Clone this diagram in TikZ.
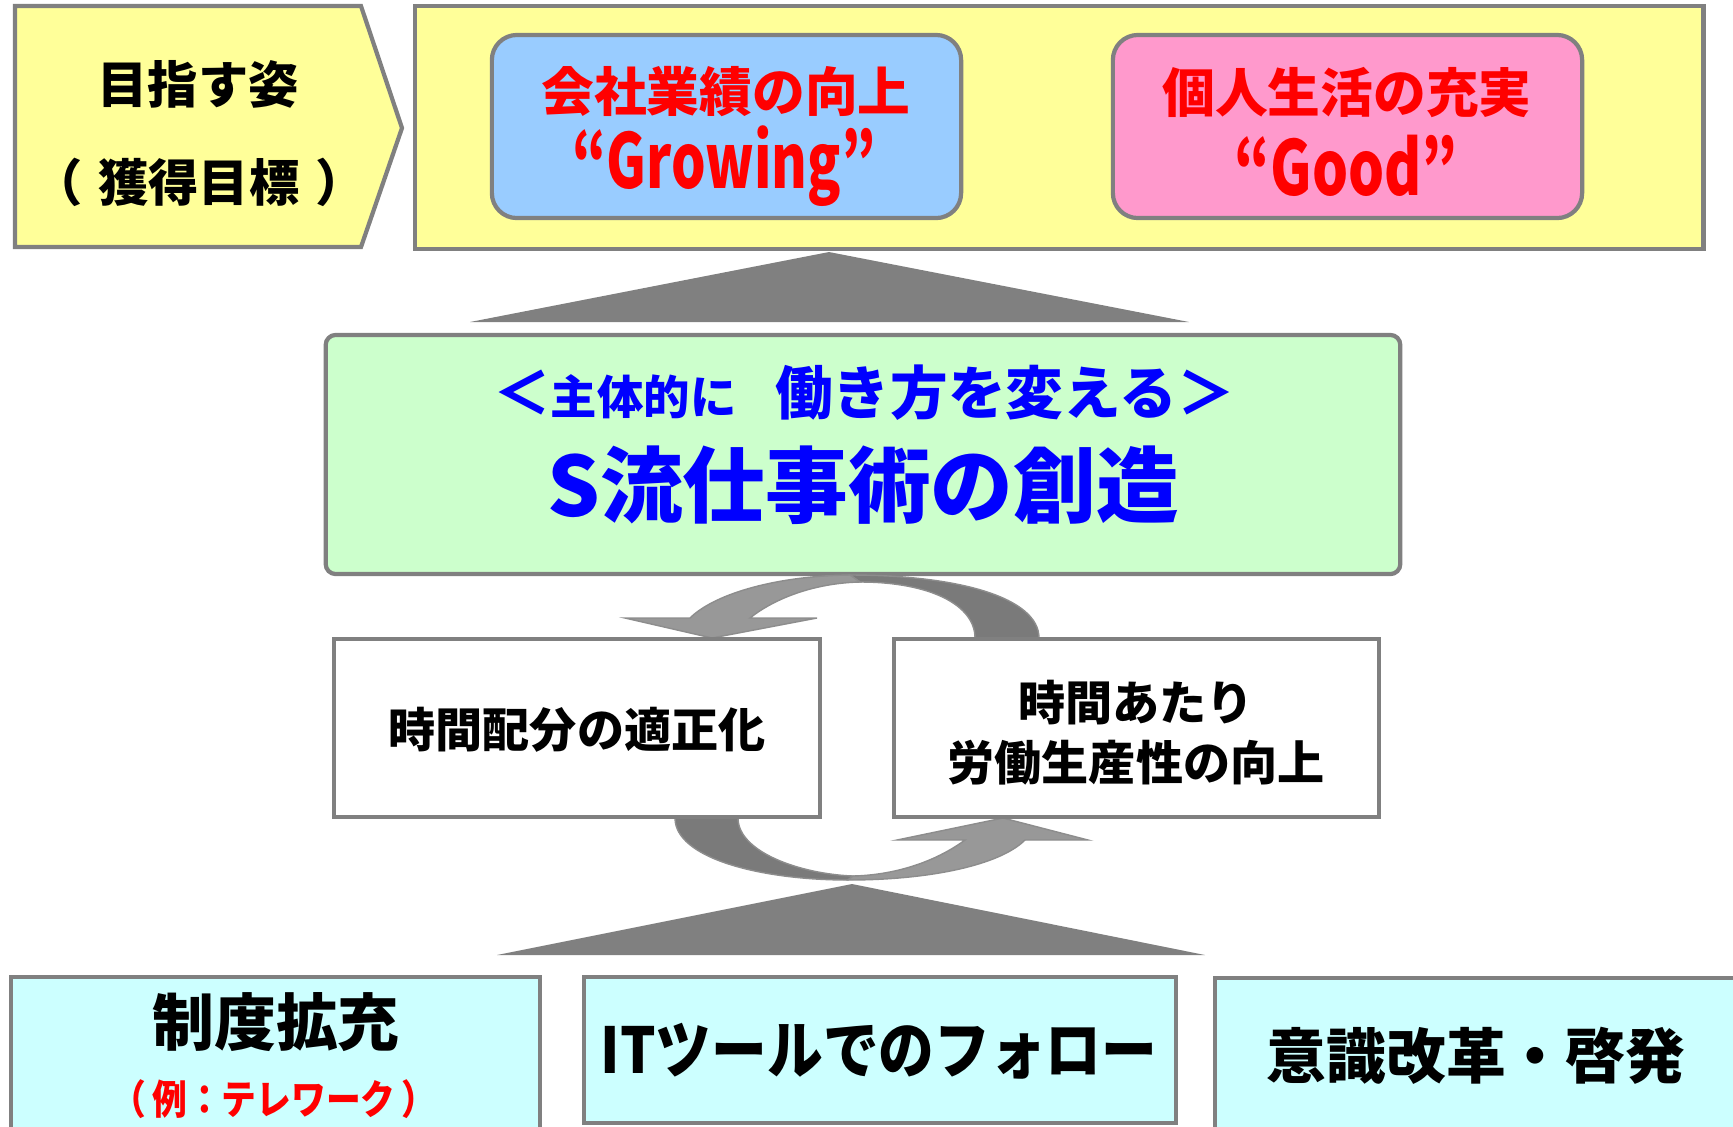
\documentclass[tikz,border=0pt]{standalone}
\usepackage{fontspec}
\usepackage{graphicx}
\setmainfont{Noto Sans CJK JP}
\definecolor{yel}{HTML}{FFFF99}
\definecolor{bluebox}{HTML}{99CCFF}
\definecolor{pinkbox}{HTML}{FF99CC}
\definecolor{greenbox}{HTML}{CCFFCC}
\definecolor{cyanbox}{HTML}{CCFFFF}
\definecolor{lgray}{HTML}{808080}
\definecolor{arrdark}{HTML}{7A7A7A}
\definecolor{arrlight}{HTML}{989898}
\definecolor{txtred}{HTML}{FF0000}
\definecolor{txtblue}{HTML}{0000FF}
\newcommand{\fs}[1]{\fontsize{#1}{#1}\selectfont}
\tikzset{
  frame/.style={draw=lgray, line width=1.2pt},
  box/.style={frame, inner sep=0pt, outer sep=0pt},
  jp/.style={font=\bfseries, inner sep=0pt, outer sep=0pt},
  tri/.style={fill=lgray},
  arrd/.style={fill=arrdark, draw=lgray!90, line width=0.4pt},
  arrl/.style={fill=arrlight, draw=lgray!90, line width=0.4pt},
}
\begin{document}
\begin{tikzpicture}[x=0.01cm, y=-0.01cm]
\useasboundingbox (0,0) rectangle (1733,1126);
\clip (0,0) rectangle (1733,1126);

% goal label (pentagon)
\filldraw[fill=yel, frame] (15,6) -- (361,6) -- (402,128) -- (361,247) -- (15,247) -- cycle;
\node[jp] (goalA) at (198,84) {\fs{14.3}目指す姿};
\node[jp] (goalB) at (199,182) {\fs{14.3}（\hspace{4.5pt}獲得目標\hspace{4.5pt}）};

% top yellow frame
\node[box, fill=yel, minimum width=12.88cm, minimum height=2.43cm] (top) at (1059,127.5) {};
\node[box, fill=bluebox, rounded corners=0.25cm, minimum width=4.69cm, minimum height=1.83cm] (grow) at (726.5,126.5) {};
\node[box, fill=pinkbox, rounded corners=0.25cm, minimum width=4.69cm, minimum height=1.83cm] (good) at (1347.5,126.5) {};
\node[jp, text=txtred] (growA) at (726,92) {\fs{15}会社業績の向上};
\node[jp, text=txtred] (growB) at (724,166) {\scalebox{0.72}[1]{\fs{21.5}“Growing”}};
\node[jp, text=txtred] (goodA) at (1347,92) {\fs{15}個人生活の充実};
\node[jp, text=txtred] (goodB) at (1346,166) {\scalebox{0.75}[1]{\fs{21.5}“Good”}};

% upper triangle
\fill[tri] (829,252) -- (1189,322) -- (470,322) -- cycle;

% green main box
\node[box, fill=greenbox, rounded corners=0.1cm, minimum width=10.74cm, minimum height=2.39cm] (main) at (863,454.5) {};
\node[jp, text=txtblue] (mainA) at (864,393) {\fs{16.4}＜{\fs{13.2}主体的に}\hspace{11pt}働き方を変える＞};
\node[jp, text=txtblue] (mainB) at (863,485) {\fs{23.5}S流仕事術の創造};

% circular arrows
\filldraw[arrd] (1039,638) .. controls (1039,598) and (960,575) .. (850,575)
  -- (860,582) .. controls (930,582) and (975,605) .. (975,638) -- cycle;
\filldraw[arrl] (850,575) .. controls (770,576) and (712,596) .. (690,618)
  -- (625,618) -- (712,638) -- (817,618) -- (750,618)
  .. controls (775,598) and (815,583) .. (860,582) -- cycle;
\filldraw[arrd] (675,818) .. controls (675,858) and (760,880) .. (848,880)
  -- (853,876) .. controls (800,874) and (738,852) .. (738,818) -- cycle;
\filldraw[arrl] (848,880) .. controls (930,880) and (1000,865) .. (1025,840)
  -- (1088,840) -- (1003,818) -- (897,840) -- (965,840)
  .. controls (935,862) and (895,875) .. (853,876) -- cycle;

% white boxes
\node[box, fill=white, minimum width=4.86cm, minimum height=1.78cm] (alloc) at (577,728) {};
\node[box, fill=white, minimum width=4.85cm, minimum height=1.78cm] (prod) at (1136.5,728) {};
\node[jp] (allocT) at (577,730) {\fs{13.4}時間配分の適正化};
\node[jp] (prodA) at (1136,703) {\fs{13.4}時間あたり};
\node[jp] (prodB) at (1136,763) {\fs{13.4}労働生産性の向上};

% lower triangle
\fill[tri] (852,884) -- (1205,955) -- (497,955) -- cycle;

% bottom boxes
\node[box, fill=cyanbox, minimum width=5.29cm, minimum height=1.63cm] (sys) at (275.5,1058.5) {};
\node[box, fill=cyanbox, minimum width=5.92cm, minimum height=1.46cm] (it) at (880,1050) {};
\node[box, fill=cyanbox, minimum width=5.45cm, minimum height=1.62cm] (mind) at (1487.5,1059) {};
\node[jp] (sysA) at (276,1022) {\fs{17.6}制度拡充};
\node[jp, text=txtred] (sysB) at (274,1099) {\scalebox{0.86}[1]{\fs{11.5}（\hspace{2pt}例：テレワーク\hspace{2pt}）}};
\node[jp] (itT) at (879,1051) {\scalebox{0.88}[1]{\fs{18}ITツールでのフォロー}};
\node[jp] (mindT) at (1476,1056) {\fs{17}意識改革・啓発};
\end{tikzpicture}
\end{document}
